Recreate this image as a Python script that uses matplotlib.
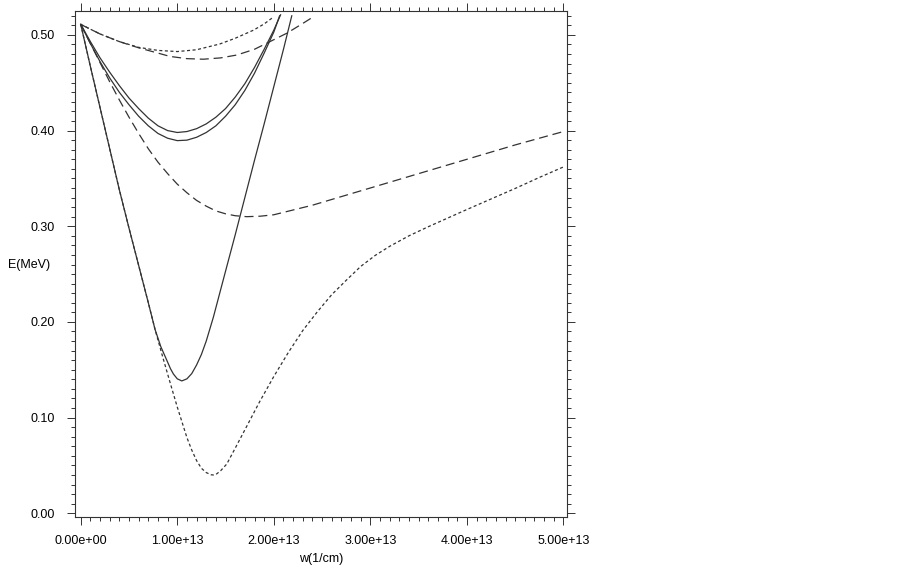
## Import libraries
import numpy as np
import matplotlib.pyplot as plt
from matplotlib.ticker import MultipleLocator, FuncFormatter

plt.rcParams['font.family'] = ['Liberation Sans', 'DejaVu Sans']
plt.rcParams['lines.scale_dashes'] = False

## Data (w in units of 1e13 1/cm, E in MeV)
# solid, upper U
s1_w = [0, 0.1, 0.2, 0.3, 0.4, 0.5, 0.6, 0.7, 0.8, 0.9, 1.0, 1.1, 1.2, 1.3, 1.4, 1.5, 1.6, 1.7, 1.8, 1.9, 2.0, 2.07]
s1_E = [0.511, 0.493, 0.476, 0.461, 0.447, 0.434, 0.423, 0.413, 0.405, 0.400, 0.398, 0.399, 0.402, 0.407, 0.414,
        0.423, 0.435, 0.449, 0.466, 0.485, 0.505, 0.521]
# solid, lower U
s2_w = [0, 0.1, 0.2, 0.3, 0.4, 0.5, 0.6, 0.7, 0.8, 0.9, 1.0, 1.1, 1.2, 1.3, 1.4, 1.5, 1.6, 1.7, 1.8, 1.9, 2.0, 2.06]
s2_E = [0.511, 0.491, 0.472, 0.455, 0.440, 0.427, 0.415, 0.405, 0.397, 0.392, 0.3895, 0.390, 0.393, 0.398, 0.405,
        0.415, 0.427, 0.442, 0.460, 0.481, 0.503, 0.520]
# solid, deep V
s3_w = [0, 0.1, 0.2, 0.3, 0.4, 0.5, 0.6, 0.7, 0.77, 0.83, 0.891, 0.93, 0.96, 1.0, 1.047, 1.1, 1.15, 1.2, 1.25,
        1.3, 1.374, 1.45, 1.513, 1.6, 1.7, 1.8, 1.9, 2.0, 2.1, 2.186]
s3_E = [0.511, 0.467, 0.424, 0.381, 0.338, 0.298, 0.259, 0.220, 0.192, 0.174, 0.160, 0.151, 0.1455, 0.1405,
        0.1383, 0.1405, 0.146, 0.155, 0.166, 0.180, 0.205, 0.234, 0.258, 0.291, 0.330, 0.369, 0.407, 0.446,
        0.485, 0.520]
# short dash, deep
d1_w = [0, 0.1, 0.2, 0.3, 0.4, 0.5, 0.6, 0.7, 0.77, 0.85, 0.93, 1.0, 1.05, 1.1, 1.15, 1.2, 1.25, 1.3, 1.35,
        1.374, 1.4, 1.45, 1.513, 1.6, 1.72, 1.85, 2.0, 2.15, 2.3, 2.45, 2.6, 2.75, 2.9, 3.05, 3.2, 3.4, 3.6,
        3.8, 4.0, 4.25, 4.5, 4.75, 5.0]
d1_E = [0.511, 0.467, 0.424, 0.381, 0.338, 0.298, 0.259, 0.220, 0.192, 0.163, 0.135, 0.111, 0.095, 0.079,
        0.066, 0.055, 0.047, 0.0425, 0.0402, 0.040, 0.0405, 0.0445, 0.0515, 0.068, 0.091, 0.116, 0.143, 0.168,
        0.191, 0.2105, 0.2285, 0.2435, 0.258, 0.2695, 0.279, 0.290, 0.2995, 0.3085, 0.3175, 0.3285, 0.3395,
        0.351, 0.362]
# long dash, lower
d2_w = [0, 0.1, 0.2, 0.3, 0.4, 0.5, 0.6, 0.7, 0.8, 0.9, 1.0, 1.1, 1.2, 1.3, 1.4, 1.5, 1.6, 1.72, 1.86, 2.0,
        2.2, 2.4, 2.6, 2.8, 3.0, 3.2, 3.6, 4.0, 4.5, 5.0]
d2_E = [0.511, 0.491, 0.471, 0.451, 0.432, 0.414, 0.397, 0.381, 0.367, 0.355, 0.344, 0.335, 0.327, 0.321,
        0.316, 0.313, 0.311, 0.310, 0.3105, 0.312, 0.317, 0.322, 0.328, 0.334, 0.340, 0.346, 0.358, 0.370,
        0.385, 0.399]
# short dash, upper
d3_w = [0, 0.2, 0.4, 0.6, 0.8, 1.0, 1.2, 1.44, 1.6, 1.79, 1.9, 2.0]
d3_E = [0.511, 0.501, 0.493, 0.487, 0.4838, 0.4826, 0.4845, 0.4905, 0.4965, 0.505, 0.5115, 0.519]
# long dash, upper
d4_w = [0, 0.2, 0.4, 0.6, 0.8, 0.925, 1.1, 1.27, 1.45, 1.617, 1.8, 1.96, 2.135, 2.3, 2.41]
d4_E = [0.511, 0.501, 0.493, 0.4865, 0.481, 0.4775, 0.4752, 0.4746, 0.476, 0.479, 0.485, 0.493, 0.5018,
        0.512, 0.519]

## Plot
fig = plt.figure(figsize=(9.02, 5.73), dpi=100)
ax = fig.add_axes([0.0832, 0.0983, 0.5451, 0.8825])

col = '#333333'
lw = 0.9
short = (2.2, 1.8)
long = (6.5, 3.5)
sc = 1e13

ax.plot(np.array(s1_w) * sc, s1_E, color=col, lw=lw)
ax.plot(np.array(s2_w) * sc, s2_E, color=col, lw=lw)
ax.plot(np.array(s3_w) * sc, s3_E, color=col, lw=lw)
ax.plot(np.array(d1_w) * sc, d1_E, color=col, lw=lw, dashes=short)
ax.plot(np.array(d2_w) * sc, d2_E, color=col, lw=lw, dashes=long)
ax.plot(np.array(d3_w) * sc, d3_E, color=col, lw=lw, dashes=short)
ax.plot(np.array(d4_w) * sc, d4_E, color=col, lw=lw, dashes=long)

ax.set_xlim(-0.059e13, 5.034e13)
ax.set_ylim(-0.0036, 0.525)

ax.xaxis.set_major_locator(MultipleLocator(1e13))
ax.xaxis.set_minor_locator(MultipleLocator(1e12))
ax.yaxis.set_major_locator(MultipleLocator(0.1))
ax.yaxis.set_minor_locator(MultipleLocator(0.01))
ax.xaxis.set_major_formatter(FuncFormatter(lambda v, p: '%.2e' % v))
ax.yaxis.set_major_formatter(FuncFormatter(lambda v, p: '%.2f' % v))

ax.tick_params(which='both', direction='out', top=True, right=True, color=col, width=0.7)
ax.tick_params(which='major', length=5.5, labelsize=9)
ax.tick_params(axis='x', which='major', pad=8)
ax.tick_params(axis='y', which='major', pad=9)
ax.tick_params(which='minor', length=3)
for s in ax.spines.values():
    s.set_color(col)
    s.set_linewidth(0.8)

ax.set_xlabel('w(1/cm)', fontsize=9, labelpad=4)
fig.text(29 / 902, 1 - 265 / 573, 'E(MeV)', fontsize=9, ha='center', va='center')

plt.savefig('out.png', dpi=100)
